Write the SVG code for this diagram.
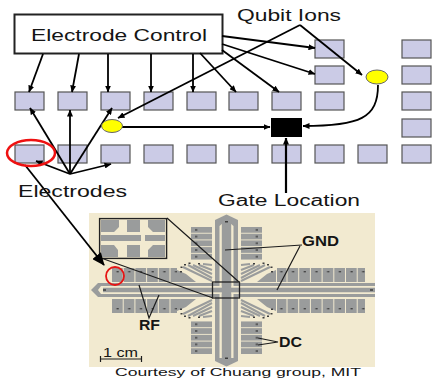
<svg xmlns="http://www.w3.org/2000/svg" width="432" height="378" viewBox="0 0 432 378">
<style>
text{font-family:"Liberation Sans",Arial,sans-serif;fill:#151515}
.e{fill:#cbcbe6;stroke:#555;stroke-width:1.200}
.l{fill:none;stroke:#000;stroke-width:1.800;marker-end:url(#ah)}
.g{fill:#9a9c9c}
.w{fill:none;stroke:#1c1c1c;stroke-width:1.200}
.fan{fill:none;stroke:#9a9c9c;stroke-width:2}
.dot{fill:#3c3c3c}
.b{font-size:14px;font-weight:bold}
</style>
<defs>
<marker id="ah" markerWidth="7" markerHeight="6" refX="6.500" refY="3" orient="auto" markerUnits="userSpaceOnUse"><path d="M0 0L7 3L0 6z" fill="#000"/></marker>
<marker id="big" markerWidth="13" markerHeight="11" refX="12" refY="5.500" orient="auto" markerUnits="userSpaceOnUse"><path d="M0 0L13 5.500L0 11z" fill="#000"/></marker>
<pattern id="ev" x="112" y="268" width="11.700" height="14" patternUnits="userSpaceOnUse"><rect width="10.700" height="14" fill="#9a9c9c"/><rect x="4.500" y="3" width="2.200" height="1.400" fill="#444"/></pattern>
<pattern id="ev2" x="112" y="299" width="11.700" height="14" patternUnits="userSpaceOnUse"><rect width="10.700" height="14" fill="#9a9c9c"/><rect x="4.500" y="9" width="2.200" height="1.400" fill="#444"/></pattern>
<pattern id="eh" x="191" y="227" width="21" height="6.700" patternUnits="userSpaceOnUse"><rect width="21" height="5.800" fill="#9a9c9c"/><rect x="4" y="2.200" width="2.400" height="1.400" fill="#444"/></pattern>
<g id="q">
<rect x="191" y="227" width="21" height="33" fill="url(#eh)"/>
<path class="g" d="M177 270L186 274L196 282H177z"/>
<path class="fan" d="M212 281L183 267M212 278L188 265M212 274L193 265M212 270L199 265M212 265L203 264"/>
<path class="dot" d="M180 271h2v1.500h-2zM180.500 266.500h2v1.500h-2zM184 264h2v1.500h-2zM188.500 262.500h2v1.500h-2zM198 263h2v1.500h-2z"/>
</g>
</defs>

<g id="photo">
<rect x="89" y="213" width="286" height="154" fill="#f2ead0"/>
<rect x="112" y="268" width="65" height="14" fill="url(#ev)"/>
<rect x="112" y="299" width="65" height="14" fill="url(#ev2)"/>
<rect x="277" y="268" width="88" height="14" fill="url(#ev)"/>
<rect x="277" y="299" width="88" height="14" fill="url(#ev2)"/>
<use href="#q"/>
<use href="#q" transform="translate(453 0) scale(-1 1)"/>
<use href="#q" transform="translate(0 581) scale(1 -1)"/>
<use href="#q" transform="translate(453 581) scale(-1 -1)"/>
<path class="g" d="M375 283H98L91 290L98 297H375z"/>
<path class="g" d="M215 220L226.500 214.500L238 220V361L226.500 366.500L215 361z"/>
<path d="M375 286H101L98 290L101 294H375z" fill="#f2ead0"/>
<path class="g" d="M375 287.700H103V292.300H375z"/>
<path d="M219.500 226L226.500 220L233.500 226V358H219.500z" fill="#f2ead0"/>
<rect class="g" x="221.800" y="219" width="9.400" height="145"/>
<rect x="215" y="286" width="23" height="8" fill="#f2ead0"/>
<rect class="g" x="215" y="287.700" width="23" height="4.600"/>
<rect class="g" x="221.800" y="283" width="9.400" height="14"/>
<path class="dot" d="M225 221h3v1.500h-3zM225 357.500h3v1.500h-3zM103 289.300h3v1.500h-3zM370 289.300h3v1.500h-3z"/>

<g id="inset">
<rect x="99.600" y="218.600" width="67" height="39.800" fill="#f2ead0" stroke="#222" stroke-width="1.400"/>
<path class="g" d="M101 220H119V227L114 232H101zM127 220H140V232H127zM148 220H165V232H153L148 227zM101 235H141V241H101zM145 235H165V241H145zM101 245H114L118 250V257H101zM127 245H140V257H127zM153 245H165V257H148V250z"/>
</g>
<path class="w" d="M167 218L239 282M101 258L213 298"/>
<rect x="212.500" y="282" width="27" height="16" fill="none" stroke="#222" stroke-width="1.300"/>
<ellipse cx="115" cy="276" rx="9" ry="9" fill="none" stroke="#e61414" stroke-width="1.800"/>
<path class="w" d="M139 285L149 318L159 295M302 245L225 250M300 246L277 290M258 338L278 342L258 345"/>
<path class="w" d="M100 359H142M100.500 356V362M141.500 356V362"/>
<text x="302" y="246" class="b" textLength="37" lengthAdjust="spacingAndGlyphs">GND</text>
<text x="279" y="347" class="b" textLength="23" lengthAdjust="spacingAndGlyphs">DC</text>
<text x="139" y="330" class="b" textLength="21" lengthAdjust="spacingAndGlyphs">RF</text>
<text x="103" y="357" font-size="12" textLength="35" lengthAdjust="spacingAndGlyphs">1 cm</text>
<text x="115" y="375.500" font-size="11.500" textLength="246" lengthAdjust="spacingAndGlyphs">Courtesy of Chuang group, MIT</text>
</g>

<g id="electrode-control"><rect x="14.500" y="14.500" width="208" height="39" fill="#fff" stroke="#222" stroke-width="2"/><text x="31" y="41" font-size="17" textLength="176" lengthAdjust="spacingAndGlyphs">Electrode Control</text></g>

<g id="electrodes-row1">
<rect class="e" x="15" y="92" width="29" height="18"/><rect class="e" x="58" y="92" width="29" height="18"/><rect class="e" x="101" y="92" width="29" height="18"/><rect class="e" x="144" y="92" width="29" height="18"/><rect class="e" x="187" y="92" width="29" height="18"/><rect class="e" x="229" y="92" width="29" height="18"/><rect class="e" x="272" y="92" width="29" height="18"/><rect class="e" x="315" y="92" width="29" height="18"/><rect class="e" x="402" y="92" width="29" height="18"/>
</g>
<g id="electrodes-row2">
<rect class="e" x="15" y="145" width="29" height="18"/><rect class="e" x="58" y="145" width="29" height="18"/><rect class="e" x="101" y="145" width="29" height="18"/><rect class="e" x="144" y="145" width="29" height="18"/><rect class="e" x="187" y="145" width="29" height="18"/><rect class="e" x="229" y="145" width="29" height="18"/><rect class="e" x="272" y="145" width="29" height="18"/><rect class="e" x="315" y="145" width="29" height="18"/><rect class="e" x="358" y="145" width="29" height="18"/><rect class="e" x="402" y="145" width="29" height="18"/>
</g>
<g id="electrodes-upper">
<rect class="e" x="315" y="40" width="29" height="18"/><rect class="e" x="315" y="66" width="29" height="18"/><rect class="e" x="402" y="40" width="29" height="18"/><rect class="e" x="402" y="66" width="29" height="18"/><rect class="e" x="402" y="119" width="29" height="18"/>
</g>

<g id="connectors">
<path class="l" d="M43 54L29 92"/>
<path class="l" d="M79 54L72 92"/>
<path class="l" d="M108 54V92"/>
<path class="l" d="M151 54V92"/>
<path class="l" d="M193 54V92"/>
<path class="l" d="M200 53L236 92"/>
<path class="l" d="M222 50L279 92"/>
<path class="l" d="M222 36L315 48"/>
<path class="l" d="M222 44L315 74"/>
<path class="l" d="M300 25L118 118"/>
<path class="l" d="M300 25L362 75"/>
<path class="l" d="M122 127H270"/>
<path class="l" d="M378 85C378 118 360 126 303 126"/>
<path class="l" d="M286 193V138" style="stroke-width:2.200"/>
<path class="l" d="M70 174L30 108"/>
<path class="l" d="M70 174V110"/>
<path class="l" d="M70 174L112 108"/>
<path class="l" d="M70 174L36 161"/>
<path class="l" d="M70 174L111 164"/>
<path d="M25 165L104 265" fill="none" stroke="#000" stroke-width="1.800" marker-end="url(#big)"/>
</g>

<g id="gate"><rect x="271" y="118" width="31" height="19" fill="#000"/></g>
<g id="ion-1"><ellipse cx="112" cy="126" rx="10.500" ry="6.500" fill="#ffff00" stroke="#666" stroke-width="1"/></g>
<g id="ion-2"><ellipse cx="377" cy="77" rx="11" ry="7" fill="#ffff00" stroke="#666" stroke-width="1"/></g>
<g id="red-mark"><ellipse cx="31" cy="153" rx="24" ry="13" fill="none" stroke="#ee1111" stroke-width="2.500"/></g>
<g id="labels">
<text x="237" y="21" font-size="16" textLength="104" lengthAdjust="spacingAndGlyphs">Qubit Ions</text>
<text x="18" y="197" font-size="16" textLength="109" lengthAdjust="spacingAndGlyphs">Electrodes</text>
<text x="218" y="206" font-size="16" textLength="142" lengthAdjust="spacingAndGlyphs">Gate Location</text>
</g>
</svg>
